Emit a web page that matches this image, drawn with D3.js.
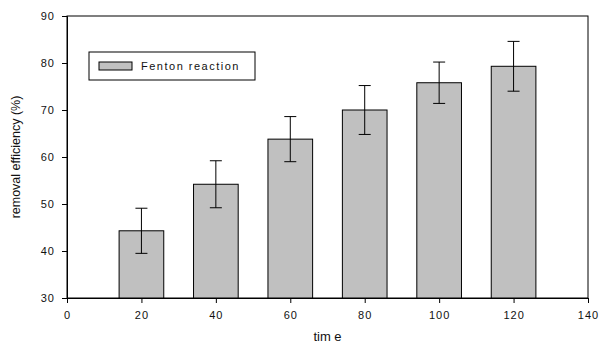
<!DOCTYPE html>
<html>
<head>
<meta charset="utf-8">
<script src="https://cdn.jsdelivr.net/npm/d3@7"></script>
<style>
  body { margin: 0; background: #fff; }
  text { font-family: "Liberation Sans", Arial, sans-serif; fill: #111; }
</style>
</head>
<body>
<div id="chart"></div>
<script>
// data
const times = [20, 40, 60, 80, 100, 120];
const efficiency = [44.3, 54.2, 63.8, 70.0, 75.8, 79.3];
const errors = [4.8, 5.0, 4.8, 5.2, 4.4, 5.3];
const xTicks = [0, 20, 40, 60, 80, 100, 120, 140];
const yTicks = [30, 40, 50, 60, 70, 80, 90];
const seriesName = "Fenton reaction";

const width = 600, height = 345;
const margin = {top: 16, right: 12, bottom: 47, left: 67};

const svg = d3.select("#chart").append("svg")
    .attr("width", width)
    .attr("height", height);

const x = d3.scaleLinear().domain([0, 140]).range([margin.left, width - margin.right]);
const y = d3.scaleLinear().domain([30, 90]).range([height - margin.bottom, margin.top]);

const barW = x(12) - x(0);

// frame
svg.append("rect")
    .attr("x", x(0)).attr("y", y(90))
    .attr("width", x(140) - x(0)).attr("height", y(30) - y(90))
    .attr("fill", "none").attr("stroke", "#000").attr("stroke-width", 1);

// bars
svg.selectAll("rect.bar")
    .data(times)
    .enter().append("rect")
    .attr("class", "bar")
    .attr("x", d => x(d) - barW / 2)
    .attr("y", (d, i) => y(efficiency[i]))
    .attr("width", barW)
    .attr("height", (d, i) => y(30) - y(efficiency[i]))
    .attr("fill", "#c0c0c0")
    .attr("stroke", "#000")
    .attr("stroke-width", 1);

// error bars
const err = svg.selectAll("g.err")
    .data(times)
    .enter().append("g")
    .attr("class", "err")
    .attr("stroke", "#000")
    .attr("stroke-width", 1);

err.append("line")
    .attr("x1", d => x(d)).attr("x2", d => x(d))
    .attr("y1", (d, i) => y(efficiency[i] + errors[i]))
    .attr("y2", (d, i) => y(efficiency[i] - errors[i]));
err.append("line")
    .attr("x1", d => x(d) - 6).attr("x2", d => x(d) + 6)
    .attr("y1", (d, i) => y(efficiency[i] + errors[i]))
    .attr("y2", (d, i) => y(efficiency[i] + errors[i]));
err.append("line")
    .attr("x1", d => x(d) - 6).attr("x2", d => x(d) + 6)
    .attr("y1", (d, i) => y(efficiency[i] - errors[i]))
    .attr("y2", (d, i) => y(efficiency[i] - errors[i]));

// axes
const xAxis = svg.append("g")
    .attr("transform", `translate(0, ${y(30)})`)
    .call(d3.axisBottom(x).tickValues(xTicks).tickSize(5).tickPadding(8));
const yAxis = svg.append("g")
    .attr("transform", `translate(${x(0)}, 0)`)
    .call(d3.axisLeft(y).tickValues(yTicks).tickSize(5).tickPadding(7));

[xAxis, yAxis].forEach(a => {
    a.select(".domain").attr("stroke", "#000");
    a.selectAll("text")
        .attr("font-size", 11)
        .style("letter-spacing", "1px")
        .attr("font-family", "Liberation Sans, Arial, sans-serif");
});

// axis titles
svg.append("text")
    .attr("x", (x(0) + x(140)) / 2)
    .attr("y", 341)
    .attr("text-anchor", "middle")
    .attr("font-size", 13)
    .text("tim e");

svg.append("text")
    .attr("transform", `translate(20, ${(y(30) + y(90)) / 2}) rotate(-90)`)
    .attr("text-anchor", "middle")
    .attr("font-size", 12.5)
    .text("removal efficiency (%)");

// legend
const legend = svg.append("g").attr("transform", "translate(89, 52)");
legend.append("rect")
    .attr("width", 166).attr("height", 28)
    .attr("fill", "#fff").attr("stroke", "#000");
legend.append("rect")
    .attr("x", 10).attr("y", 10).attr("width", 33).attr("height", 8)
    .attr("fill", "#c0c0c0").attr("stroke", "#000");
legend.append("text")
    .attr("x", 52).attr("y", 18)
    .attr("font-size", 11)
    .style("letter-spacing", "1.5px")
    .text(seriesName);
</script>
</body>
</html>
